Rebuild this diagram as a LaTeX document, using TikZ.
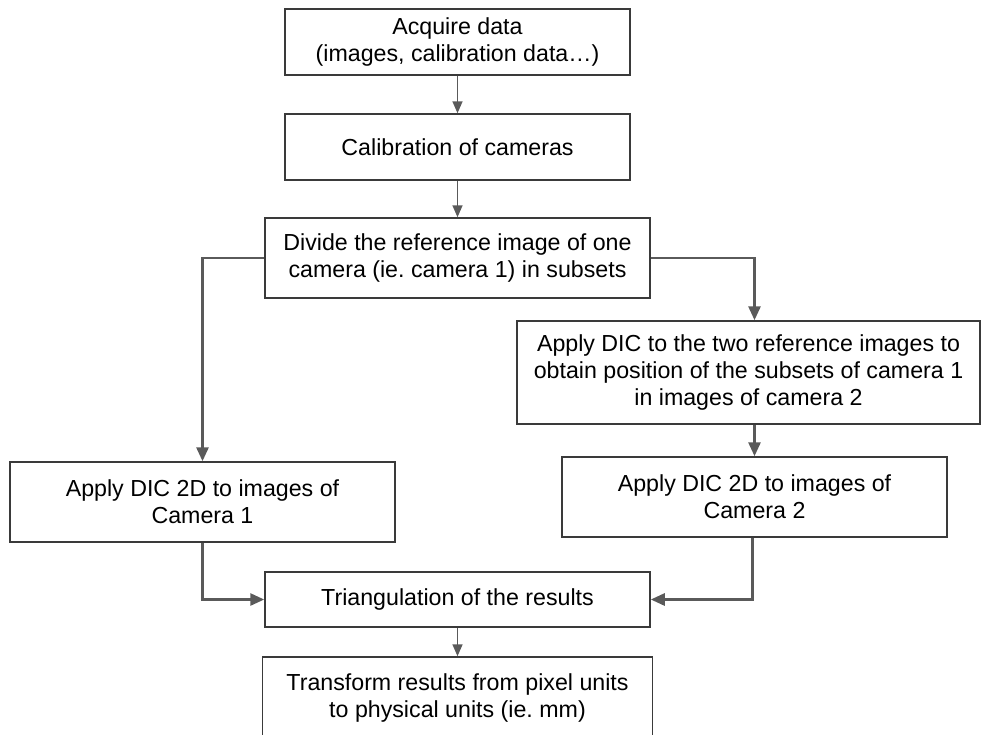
\documentclass[tikz,border=0pt]{standalone}
\usepackage{fontspec}
\setmainfont{Liberation Sans}
\usetikzlibrary{arrows.meta,calc}
\definecolor{boxline}{HTML}{3A3A3A}
\definecolor{arrline}{HTML}{5A5A5A}
\begin{document}
\begin{tikzpicture}[x=1pt,y=-1pt,
  box/.style={draw=boxline,line width=1.5pt,rectangle,align=center,inner sep=0pt,
    font=\fontsize{23.2}{26.7}\selectfont,text=black},
  conn/.style={draw=arrline,line width=2.8pt,-{Triangle[width=12pt,length=14pt]}},
  thin conn/.style={draw=arrline,line width=1.6pt,-{Triangle[width=10pt,length=12pt]}}]
\useasboundingbox (0,0) rectangle (981,734);
\begin{scope}
\clip (0,0) rectangle (981,734);
\node[box,minimum width=345pt,minimum height=66pt] (acq) at (457.5,42) {Acquire data\\(images, calibration data\ldots)};
\node[box,minimum width=345pt,minimum height=66pt] (cal) at (457.5,147) {Calibration of cameras};
\node[box,minimum width=385pt,minimum height=80pt] (div) at (457.5,258) {Divide the reference image of one\\camera (ie.\ camera 1) in subsets};
\node[box,minimum width=463pt,minimum height=103pt] (dic) at (748.5,372.5) {Apply DIC to the two reference images to\\obtain position of the subsets of camera 1\\in images of camera 2};
\node[box,minimum width=385pt,minimum height=80pt] (cam1) at (202.5,502) {Apply DIC 2D to images of\\Camera 1};
\node[box,minimum width=385pt,minimum height=80pt] (cam2) at (754.5,497) {Apply DIC 2D to images of\\Camera 2};
\node[box,minimum width=385pt,minimum height=55pt] (tri) at (457.5,599.5) {Triangulation of the results};
\node[box,minimum width=390pt,minimum height=82pt] (tra) at (457.5,698) {Transform results from pixel units\\to physical units (ie.\ mm)};
\draw[thin conn] (acq.south) -- (cal.north);
\draw[thin conn] (cal.south) -- (div.north);
\draw[conn] (div.west) -| (cam1.north);
\draw[conn] (div.east) -| (dic.north -| cam2.north);
\draw[conn] (dic.south -| cam2.north) -- (cam2.north);
\draw[conn] (cam1.south) |- (tri.west);
\draw[conn] ([xshift=-2pt]cam2.south) |- (tri.east);
\draw[thin conn] (tri.south) -- (tra.north);
\end{scope}
\end{tikzpicture}
\end{document}
